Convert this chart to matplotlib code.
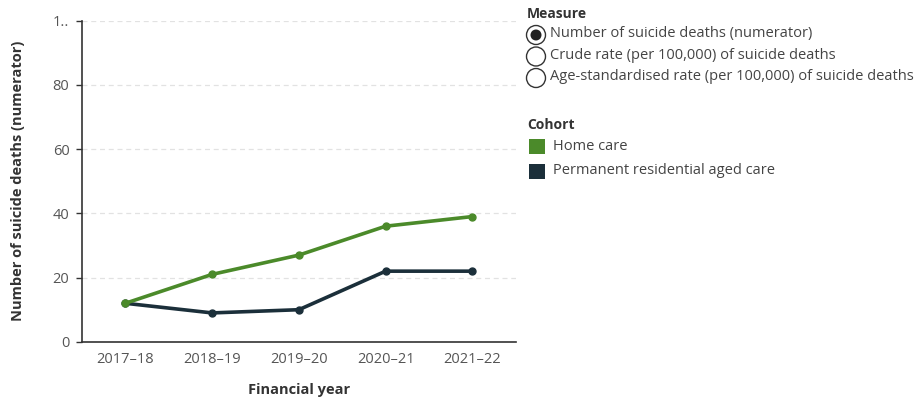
import matplotlib.pyplot as plt
from matplotlib.patches import Circle, Rectangle

plt.rcParams['font.family'] = ['Open Sans', 'DejaVu Sans']

years = ['2017–18', '2018–19', '2019–20', '2020–21', '2021–22']
home_care = [12, 21, 27, 36, 39]
residential = [12, 9, 10, 22, 22]
y_ticks = [0, 20, 40, 60, 80, 100]
y_tick_labels = ['0', '20', '40', '60', '80', '1..']
measures = ['Number of suicide deaths (numerator)',
            'Crude rate (per 100,000) of suicide deaths',
            'Age-standardised rate (per 100,000) of suicide deaths']
cohorts = ['Home care', 'Permanent residential aged care']

green = '#4b8a2a'
dark = '#1b2f3a'

fig = plt.figure(figsize=(9.23, 4.05), dpi=100)
ax = fig.add_axes([0.0888, 0.156, 0.470, 0.793])

x = range(len(years))
ax.plot(x, residential, color=dark, lw=2.6, marker='o', ms=5, zorder=3)
ax.plot(x, home_care, color=green, lw=2.6, marker='o', ms=5, zorder=4)

ax.set_xlim(-0.5, 4.5)
ax.set_ylim(0, 100)
ax.set_xticks(list(x))
ax.set_xticklabels(years)
ax.set_yticks(y_ticks)
ax.set_yticklabels(y_tick_labels)
ax.tick_params(axis='x', length=0, pad=7, labelsize=10.5, colors='#555555')
ax.tick_params(axis='y', length=4, width=1, color='#333333', pad=5,
               labelsize=10.5, labelcolor='#555555')
for s in ['top', 'right']:
    ax.spines[s].set_visible(False)
for s in ['left', 'bottom']:
    ax.spines[s].set_color('#333333')
    ax.spines[s].set_linewidth(1.2)
ax.grid(axis='y', linestyle=(0, (4, 3)), color='#e2e2e2', lw=0.9)
ax.set_axisbelow(True)
ax.set_ylabel('Number of suicide deaths (numerator)', fontsize=10.5,
              fontweight='bold', color='#333333', labelpad=20)
ax.set_xlabel('Financial year', fontsize=10.5, fontweight='bold',
              color='#333333', labelpad=12)

# legend panel in pixel coords
ov = fig.add_axes([0, 0, 1, 1], facecolor='none')
ov.set_xlim(0, 923)
ov.set_ylim(405, 0)
ov.axis('off')

ov.text(527, 14, 'Measure', fontsize=10, fontweight='bold',
        color='#333333', va='center')
for i, m in enumerate(measures):
    cy = 35 + i * 21.5
    ov.add_patch(Circle((536, cy), 9.5, facecolor='white',
                        edgecolor='#333333', lw=1))
    if i == 0:
        ov.add_patch(Circle((536, cy), 5.5, facecolor='#222222', lw=0))
    ov.text(550, cy - 1, m, fontsize=10.5, color='#444444', va='center')

ov.text(527, 125, 'Cohort', fontsize=10, fontweight='bold',
        color='#333333', va='center')
for i, (c, col) in enumerate(zip(cohorts, [green, dark])):
    cy = 146 + i * 25
    ov.add_patch(Rectangle((529, cy - 7.5), 16, 15, facecolor=col, lw=0))
    ov.text(553, cy, c, fontsize=10.5, color='#444444', va='center')

fig.savefig('out.png', dpi=100)
